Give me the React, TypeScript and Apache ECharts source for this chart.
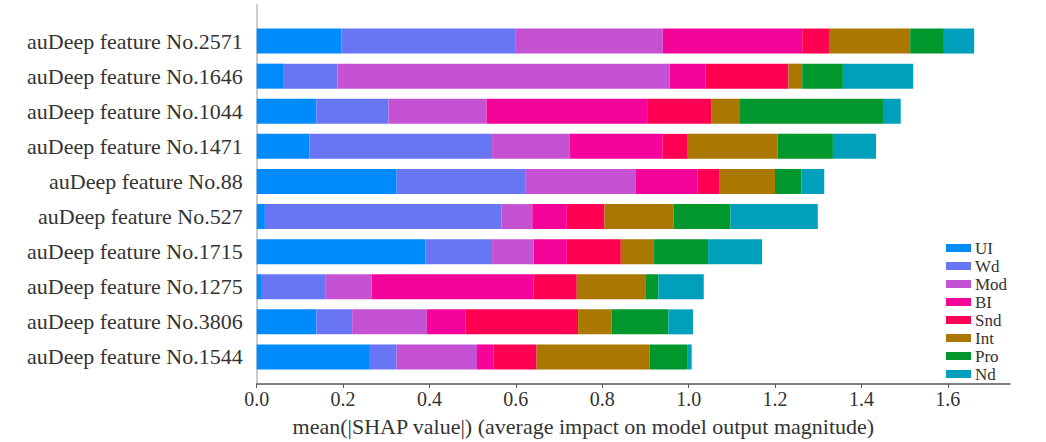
import React, { useEffect, useRef } from "react";
import * as echarts from "echarts";

// Features, top to bottom
const categories = [
  "auDeep feature No.2571",
  "auDeep feature No.1646",
  "auDeep feature No.1044",
  "auDeep feature No.1471",
  "auDeep feature No.88",
  "auDeep feature No.527",
  "auDeep feature No.1715",
  "auDeep feature No.1275",
  "auDeep feature No.3806",
  "auDeep feature No.1544",
];

// mean(|SHAP value|) per class, one entry per feature above
const ui = [0.196, 0.061, 0.138, 0.122, 0.324, 0.019, 0.391, 0.012, 0.138, 0.262];
const wd = [0.404, 0.126, 0.167, 0.423, 0.299, 0.548, 0.154, 0.148, 0.083, 0.062];
const mod = [0.34, 0.769, 0.227, 0.18, 0.255, 0.071, 0.096, 0.106, 0.173, 0.186];
const bi = [0.323, 0.083, 0.372, 0.215, 0.143, 0.08, 0.077, 0.375, 0.09, 0.038];
const snd = [0.062, 0.192, 0.148, 0.058, 0.051, 0.087, 0.125, 0.1, 0.26, 0.1];
const intr = [0.188, 0.032, 0.067, 0.208, 0.128, 0.16, 0.077, 0.16, 0.078, 0.262];
const pro = [0.078, 0.094, 0.331, 0.128, 0.061, 0.132, 0.125, 0.029, 0.131, 0.088];
const nd = [0.07, 0.163, 0.041, 0.1, 0.053, 0.202, 0.125, 0.105, 0.057, 0.009];

const classNames = ["UI", "Wd", "Mod", "BI", "Snd", "Int", "Pro", "Nd"];
const classValues = [ui, wd, mod, bi, snd, intr, pro, nd];
const classColors = [
  "#008bfb",
  "#6876f6",
  "#c452d3",
  "#f5049a",
  "#ff0052",
  "#aa7700",
  "#00972c",
  "#00a0bc",
];

const xTicks = [0, 0.2, 0.4, 0.6, 0.8, 1.0, 1.2, 1.4, 1.6];
const xMax = 1.744;

const SERIF = "'Liberation Serif', 'Times New Roman', serif";

export default function App() {
  const ref = useRef<HTMLDivElement>(null);

  useEffect(() => {
    if (!ref.current) return;
    const chart = echarts.init(ref.current, undefined, { renderer: "svg" });

    const left = 256.7;
    const right = 1046 - 1010;

    chart.setOption({
      animation: false,
      backgroundColor: "#ffffff",
      textStyle: { fontFamily: SERIF },
      legend: {
        orient: "vertical",
        left: 941,
        top: 234.5,
        icon: "rect",
        itemWidth: 25,
        itemHeight: 8,
        itemGap: 1,
        data: classNames,
        textStyle: {
          fontFamily: SERIF,
          fontSize: 17,
          color: "#333",
          padding: [0, 0, 0, -1],
        },
      },
      grid: [
        // bars
        { left, right, top: 23.5, height: 351, containLabel: false },
        // full-height frame for the axes
        { left, right, top: 5, bottom: 442 - 391, containLabel: false },
      ],
      xAxis: [
        { gridIndex: 0, type: "value", min: 0, max: xMax, show: false },
        {
          gridIndex: 1,
          type: "value",
          min: 0,
          max: xMax,
          axisLine: { show: true, lineStyle: { color: "#555", width: 1.5 } },
          axisTick: {
            show: true,
            length: 4,
            customValues: xTicks,
            lineStyle: { color: "#555" },
          },
          axisLabel: {
            customValues: xTicks,
            formatter: (v: number) => v.toFixed(1),
            fontFamily: SERIF,
            fontSize: 20,
            color: "#333",
            margin: 5,
          },
          splitLine: { show: false },
          name: "mean(|SHAP value|) (average impact on model output magnitude)",
          nameLocation: "middle",
          nameGap: 31,
          nameTextStyle: {
            fontFamily: SERIF,
            fontSize: 22,
            color: "#333",
            padding: [0, 100, 0, 0],
          },
        },
      ],
      yAxis: [
        {
          gridIndex: 0,
          type: "category",
          inverse: true,
          data: categories,
          axisLine: { show: false },
          axisTick: { show: false },
          axisLabel: {
            fontFamily: SERIF,
            fontSize: 22,
            color: "#333",
            margin: 14,
          },
          splitLine: { show: false },
        },
        {
          gridIndex: 1,
          type: "value",
          min: 0,
          max: 1,
          axisLine: { show: true, lineStyle: { color: "#cccccc", width: 2 } },
          axisTick: { show: false },
          axisLabel: { show: false },
          splitLine: { show: false },
        },
      ],
      series: classNames.map((name, i) => ({
        name,
        type: "bar",
        stack: "total",
        xAxisIndex: 0,
        yAxisIndex: 0,
        barWidth: 25,
        itemStyle: { color: classColors[i] },
        emphasis: { disabled: true },
        data: classValues[i],
      })),
    });

    return () => chart.dispose();
  }, []);

  return (
    <div
      ref={ref}
      style={{ position: "fixed", left: 0, top: 0, width: 1046, height: 442 }}
    />
  );
}
